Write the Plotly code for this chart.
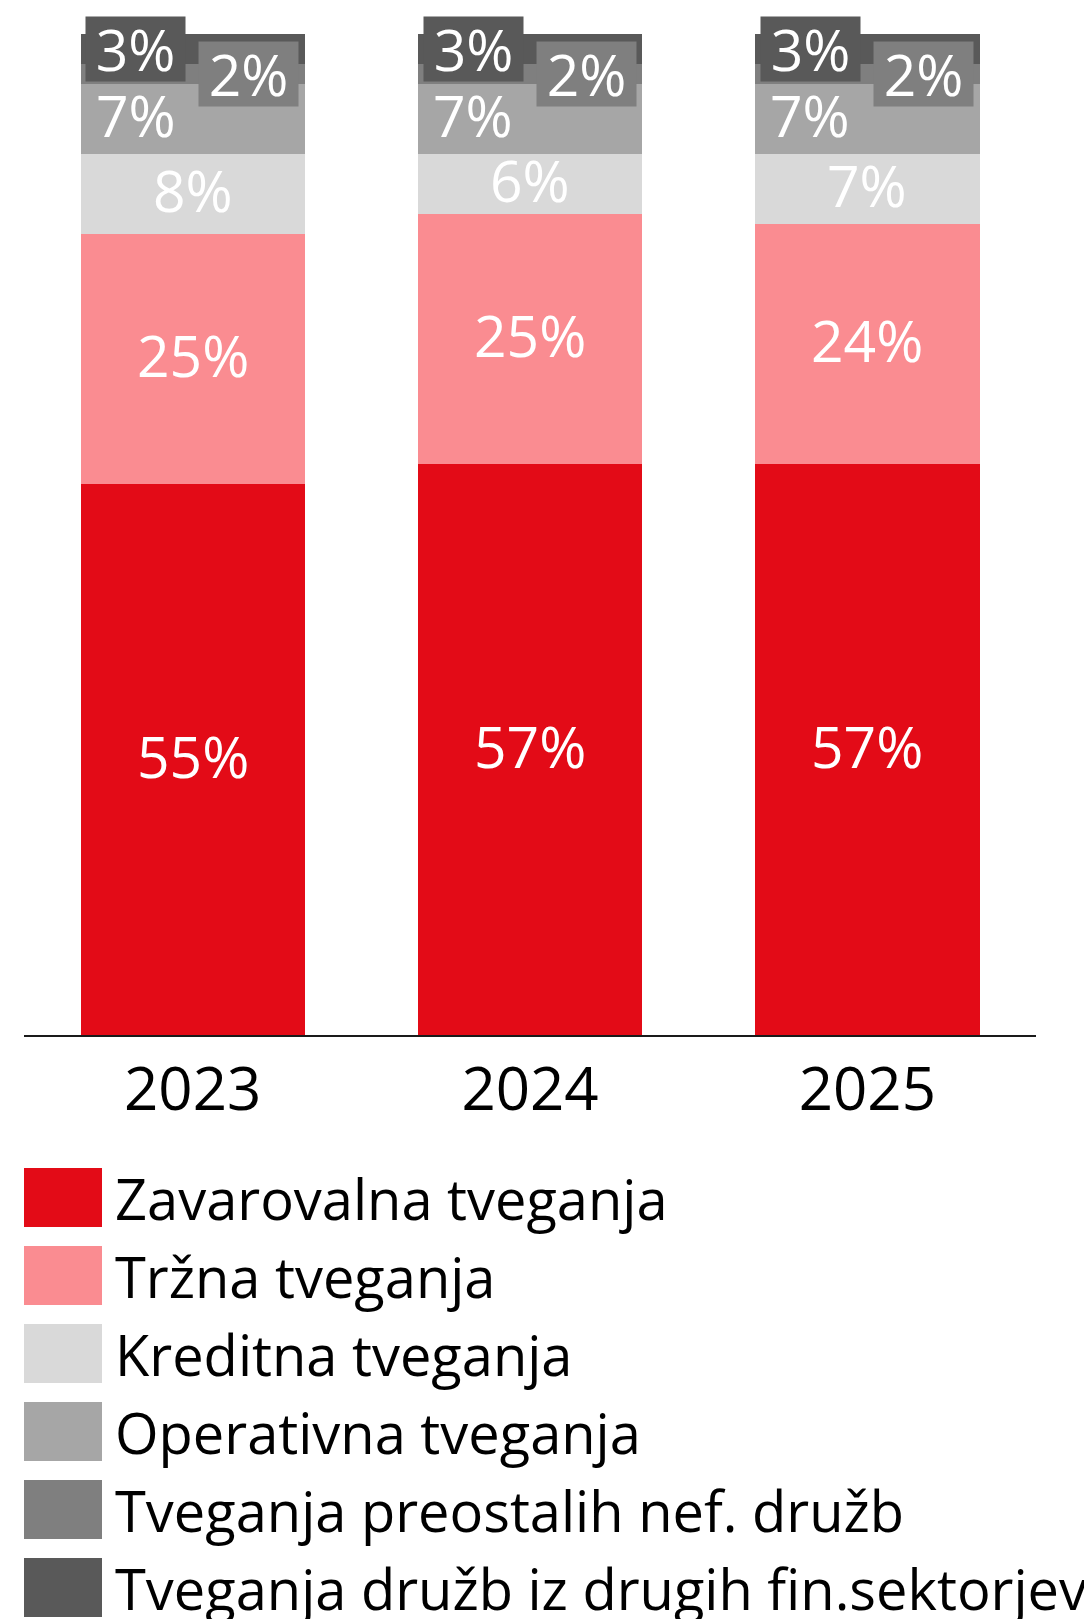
import plotly.graph_objects as go

# ---- data ----
categories = ["2023", "2024", "2025"]
series_names = [
    "Zavarovalna tveganja",
    "Tržna tveganja",
    "Kreditna tveganja",
    "Operativna tveganja",
    "Tveganja preostalih nef. družb",
    "Tveganja družb iz drugih fin.sektorjev",
]
zavarovalna = [55, 57, 57]
trzna = [25, 25, 24]
kreditna = [8, 6, 7]
operativna = [7, 7, 7]
preostalih = [2, 2, 2]
druzb_fin = [3, 3, 3]
series_values = [zavarovalna, trzna, kreditna, operativna, preostalih, druzb_fin]

# ---- styles ----
colors = ["#E30B17", "#FA8C91", "#D9D9D9", "#A6A6A6", "#7F7F7F", "#595959"]
FONT = "Open Sans"
OFF = 8  # page body margin
W, H = 1092 - OFF, 1619 - OFF
ML, MT = 24 - OFF, 34 - OFF
MR = W - (1036 - OFF)
MB = H - (1035 - OFF)
PW = W - ML - MR
PH = H - MT - MB

# label placement per series: (xshift px, draw box?)
label_style = {
    0: (0, False),
    1: (0, False),
    2: (0, False),
    3: (-57, False),
    4: (56, True),
    5: (-57, True),
}

fig = go.Figure()
for name, vals, col in zip(series_names, series_values, colors):
    fig.add_trace(go.Bar(
        x=categories, y=vals, name=name, marker=dict(color=col, line=dict(width=0)),
        hoverinfo="skip", showlegend=False,
    ))

annotations = []
# value labels (x given as category index on the category axis)
for ci, cat in enumerate(categories):
    base = 0
    for si, vals in enumerate(series_values):
        v = vals[ci]
        center = base + v / 2
        base += v
        xs, box = label_style[si]
        ann = dict(
            x=ci, y=center, xref="x", yref="y", text=f"{v}%", showarrow=False,
            xshift=xs, yshift=0 if box else 4, xanchor="center", yanchor="middle",
            font=dict(family=FONT, size=57, color="white"),
        )
        if box:
            ann.update(bgcolor=colors[si], width=99, height=64, borderpad=0, valign="middle")
        annotations.append(ann)

# custom legend (large swatches); px given in reference page pixels
def px_x(px):
    return (px - OFF - ML) / PW

def px_y(py):
    return (H - MB - (py - OFF)) / PH

shapes = []
row0, step = 1197.5, 78
for i, (name, col) in enumerate(zip(series_names, colors)):
    cy = row0 + i * step
    shapes.append(dict(
        type="rect", xref="paper", yref="paper",
        x0=px_x(24), x1=px_x(102), y0=px_y(cy - 29.5), y1=px_y(cy + 29.5),
        fillcolor=col, line=dict(width=0), layer="above",
    ))
    annotations.append(dict(
        x=px_x(113), y=px_y(cy), xref="paper", yref="paper", text=name,
        showarrow=False, xanchor="left", yanchor="middle",
        font=dict(family=FONT, size=56, color="black"),
    ))

fig.update_layout(
    width=W, height=H,
    margin=dict(l=ML, r=MR, t=MT, b=MB, pad=0, autoexpand=False),
    barmode="stack", bargap=0.335,
    plot_bgcolor="white", paper_bgcolor="white",
    showlegend=False,
    xaxis=dict(
        type="category", range=[-0.5, 2.5], autorange=False,
        showline=True, linecolor="#1a1a1a", linewidth=2,
        ticks="", showgrid=False, zeroline=False, automargin=False,
        tickfont=dict(family=FONT, size=60, color="black"),
        ticklabelstandoff=1,
    ),
    yaxis=dict(range=[0, 100], autorange=False, visible=False, showgrid=False, zeroline=False),
    annotations=annotations,
    shapes=shapes,
)

fig.write_html("out.html")
